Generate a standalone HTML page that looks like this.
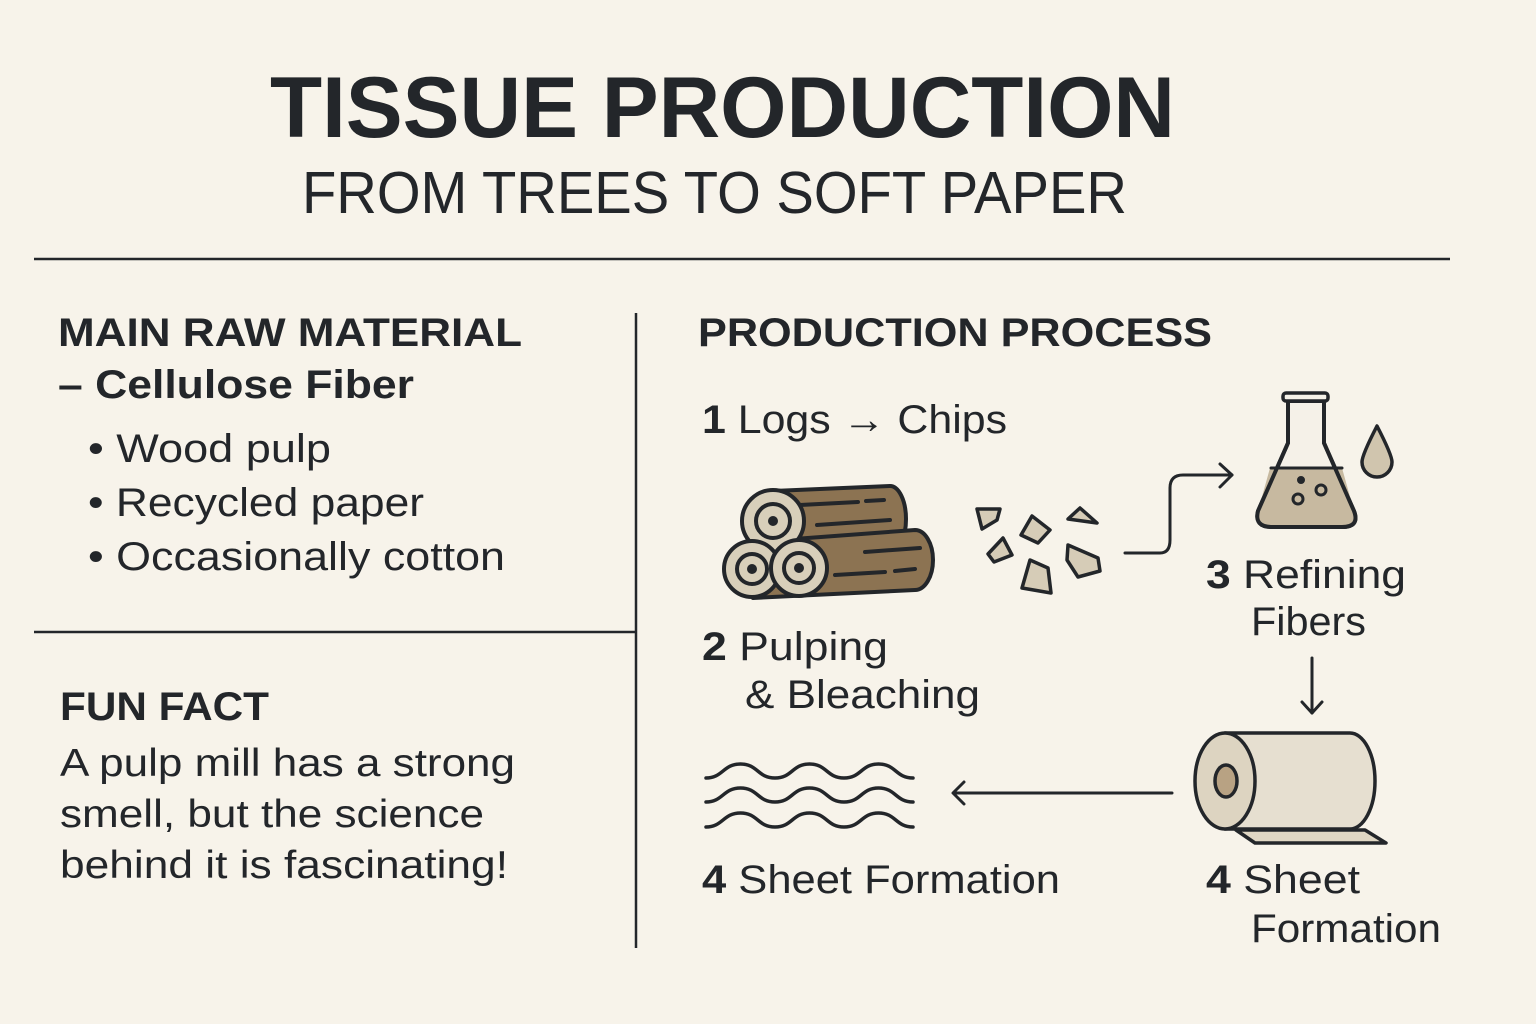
<!DOCTYPE html>
<html><head><meta charset="utf-8"><style>
html,body{margin:0;padding:0;background:#f7f3ea;}
svg{display:block}
text{font-family:"Liberation Sans",sans-serif;fill:#23262a}
.b{font-weight:bold}
</style></head><body>
<svg width="1536" height="1024" viewBox="0 0 1536 1024">
<rect width="1536" height="1024" fill="#f7f3ea"/>
<text x="270" y="137" class="b" font-size="86" textLength="905" lengthAdjust="spacingAndGlyphs">TISSUE PRODUCTION</text>
<text x="302" y="213" font-size="59" textLength="825" lengthAdjust="spacingAndGlyphs">FROM TREES TO SOFT PAPER</text>
<g stroke="#23262a" stroke-width="2.5">
<line x1="34" y1="259" x2="1450" y2="259"/>
<line x1="636" y1="313" x2="636" y2="948"/>
<line x1="34" y1="632" x2="636" y2="632"/>
</g>
<text x="58" y="346" class="b" font-size="40" textLength="464" lengthAdjust="spacingAndGlyphs">MAIN RAW MATERIAL</text>
<text x="58" y="398" class="b" font-size="40" textLength="356" lengthAdjust="spacingAndGlyphs">– Cellulose Fiber</text>
<g font-size="40">
<text x="88" y="462" textLength="243" lengthAdjust="spacingAndGlyphs">• Wood pulp</text>
<text x="88" y="516" textLength="336" lengthAdjust="spacingAndGlyphs">• Recycled paper</text>
<text x="88" y="570" textLength="417" lengthAdjust="spacingAndGlyphs">• Occasionally cotton</text>
</g>
<text x="60" y="720" class="b" font-size="40" textLength="209" lengthAdjust="spacingAndGlyphs">FUN FACT</text>
<g font-size="39">
<text x="60" y="776" textLength="455" lengthAdjust="spacingAndGlyphs">A pulp mill has a strong</text>
<text x="60" y="827" textLength="424" lengthAdjust="spacingAndGlyphs">smell, but the science</text>
<text x="60" y="878" textLength="448" lengthAdjust="spacingAndGlyphs">behind it is fascinating!</text>
</g>
<text x="698" y="346" class="b" font-size="40" textLength="514" lengthAdjust="spacingAndGlyphs">PRODUCTION PROCESS</text>
<g font-size="40">
<text x="702" y="433" textLength="305" lengthAdjust="spacingAndGlyphs"><tspan class="b">1</tspan> Logs → Chips</text>
<text x="702" y="660" textLength="186" lengthAdjust="spacingAndGlyphs"><tspan class="b">2</tspan> Pulping</text>
<text x="745" y="708" textLength="235" lengthAdjust="spacingAndGlyphs">&amp; Bleaching</text>
<text x="1206" y="588" textLength="200" lengthAdjust="spacingAndGlyphs"><tspan class="b">3</tspan> Refining</text>
<text x="1251" y="635" textLength="115" lengthAdjust="spacingAndGlyphs">Fibers</text>
<text x="702" y="893" textLength="358" lengthAdjust="spacingAndGlyphs"><tspan class="b">4</tspan> Sheet Formation</text>
<text x="1206" y="893" textLength="154" lengthAdjust="spacingAndGlyphs"><tspan class="b">4</tspan> Sheet</text>
<text x="1251" y="942" textLength="190" lengthAdjust="spacingAndGlyphs">Formation</text>
</g>
<g stroke="#23262a" stroke-width="4" stroke-linejoin="round" stroke-linecap="round">
<path d="M773 491 L890 486 A16 33 0 0 1 890 552 L773 553 Z" fill="#8c7352"/>
<line x1="800" y1="505" x2="858" y2="502"/><line x1="866" y1="501" x2="884" y2="500"/><line x1="817" y1="525" x2="890" y2="520"/>
<path d="M753 542 L915 530 A18 30 0 0 1 915 590 L753 598 Z" fill="#8c7352"/>
<line x1="865" y1="552" x2="920" y2="548"/><line x1="835" y1="575" x2="885" y2="572"/><line x1="895" y1="571" x2="915" y2="569"/>
<circle cx="773" cy="521" r="31" fill="#d8cfba"/><circle cx="773" cy="521" r="17" fill="none"/><circle cx="773" cy="521" r="3" fill="#23262a"/>
<circle cx="752" cy="569" r="28" fill="#d8cfba"/><circle cx="752" cy="569" r="15" fill="none"/><circle cx="752" cy="569" r="3" fill="#23262a"/>
<circle cx="799" cy="568" r="28" fill="#d8cfba"/><circle cx="799" cy="568" r="15" fill="none"/><circle cx="799" cy="568" r="3" fill="#23262a"/>
<g fill="#d6ccb7" stroke-width="3.5">
<path d="M977 509 L1000 509 L997 520 L982 529 Z"/>
<path d="M1032 516 L1050 530 L1038 543 L1021 535 Z"/>
<path d="M1068 519 L1080 508 L1097 523 Z"/>
<path d="M1003 538 L1012 555 L994 562 L988 554 Z"/>
<path d="M1068 545 L1098 558 L1100 571 L1078 577 L1067 560 Z"/>
<path d="M1030 560 L1048 568 L1051 593 L1022 588 Z"/>
</g>
<path d="M1125 553 L1160 553 Q1170 553 1170 540 L1170 488 Q1170 475 1183 475 L1232 475" fill="none" stroke-width="3"/>
<path d="M1220 464 L1232 475 L1220 487" fill="none" stroke-width="3"/>
<path d="M1288 401 L1288 443 L1258 511 Q1254 527 1272 527 L1342 527 Q1360 527 1354 511 L1324 443 L1324 401 Z" fill="#f5f1e8"/>
<path d="M1270 468 L1342 468 L1354 511 Q1360 527 1342 527 L1272 527 Q1254 527 1258 511 Z" fill="#c7b9a0" stroke="none"/>
<path d="M1288 401 L1288 443 L1258 511 Q1254 527 1272 527 L1342 527 Q1360 527 1354 511 L1324 443 L1324 401" fill="none"/>
<line x1="1271" y1="468" x2="1342" y2="468" stroke-width="3"/>
<rect x="1283" y="393" width="45" height="8" rx="3" fill="#f5f1e8" stroke-width="3.5"/>
<circle cx="1298" cy="499" r="5" fill="none" stroke-width="3"/><circle cx="1321" cy="490" r="5" fill="none" stroke-width="3"/><circle cx="1301" cy="480" r="2" fill="#23262a"/>
<path d="M1377 426 Q1392 455 1392 462 A15 15 0 0 1 1362 462 Q1362 455 1377 426 Z" fill="#d0c5ae" stroke-width="3.5"/>
<line x1="1312" y1="658" x2="1312" y2="713" stroke-width="3"/>
<path d="M1302 702 L1312 713 L1322 702" fill="none" stroke-width="3"/>
<path d="M1236 830 L1365 830 L1386 843 L1255 843 Z" fill="#e0d7c4" stroke-width="3.5"/>
<path d="M1225 733 L1350 733 A25 48 0 0 1 1350 829 L1225 829 Z" fill="#e6dfd0" stroke-width="3.5"/>
<ellipse cx="1225" cy="781" rx="30" ry="48" fill="#ddd4c1" stroke-width="3.5"/>
<ellipse cx="1226" cy="781" rx="11" ry="16" fill="#b8a283" stroke-width="3.5"/>
<line x1="954" y1="793" x2="1172" y2="793" stroke-width="3"/>
<path d="M964 782 L953 793 L964 804" fill="none" stroke-width="3"/>
<g fill="none" stroke-width="3.5">
<path d="M706 778 c17 0 17 -14 34.5 -14 s17 14 34.5 14 s17 -14 34.5 -14 s17 14 34.5 14 s17 -14 34.5 -14 s17 14 34.5 14"/>
<path d="M706 802 c17 0 17 -14 34.5 -14 s17 14 34.5 14 s17 -14 34.5 -14 s17 14 34.5 14 s17 -14 34.5 -14 s17 14 34.5 14"/>
<path d="M706 827 c17 0 17 -14 34.5 -14 s17 14 34.5 14 s17 -14 34.5 -14 s17 14 34.5 14 s17 -14 34.5 -14 s17 14 34.5 14"/>
</g>
</g>
</svg>
</body></html>
